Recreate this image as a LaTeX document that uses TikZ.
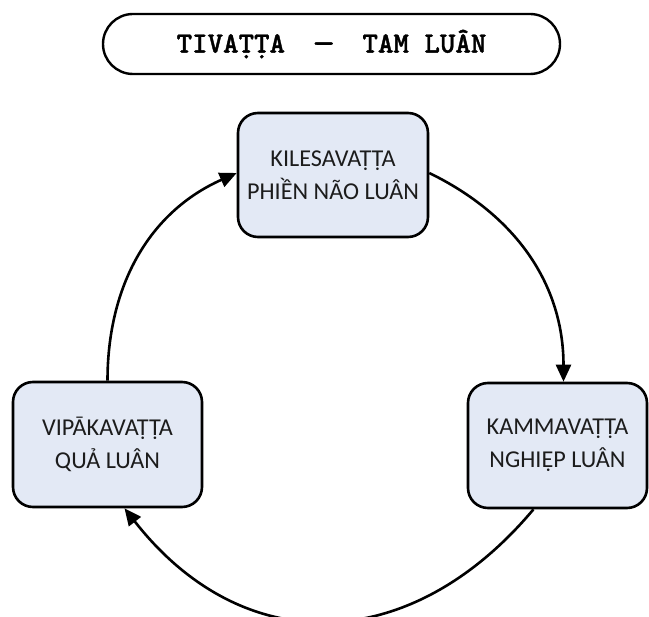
\documentclass[tikz,border=0pt]{standalone}
\usepackage{fontspec}
\setmainfont{Carlito}
\newfontfamily\titlefont{lmmonolt10-bold.otf}[FakeBold=1.2]
\usetikzlibrary{arrows.meta}
\definecolor{boxfill}{RGB}{227,233,245}
\definecolor{inkdark}{RGB}{28,28,28}
\begin{document}
\begin{tikzpicture}[x=1pt,y=1pt,
  cyclebox/.style={draw=black, line width=2.6pt, fill=boxfill, rounded corners=20pt,
    align=center, inner sep=0pt, text=inkdark,
    font=\fontsize{24.2}{33}\selectfont},
  titlebox/.style={draw=black, line width=2.4pt, rounded corners=30pt,
    minimum width=457pt, minimum height=60pt, inner sep=0pt,
    font=\titlefont\fontsize{29.5}{32}\selectfont},
  flow/.style={line width=2.6pt, -{Triangle[length=17pt,width=15pt]}}]
\useasboundingbox (0,0) rectangle (649,-617);

% title banner (the dash is widened to a full-width rule)
\node[titlebox] (title) at (331.5,-44)
  {TIVAṬṬA~~\makebox[15.5pt]{\scalebox{1.45}[1]{—}}~~TAM LUÂN};

% the three rounds
\node[cyclebox, minimum width=190pt, minimum height=124pt] (kilesa) at (333,-175)
  {KILESAVAṬṬA\\PHIỀN NÃO LUÂN};
\node[cyclebox, minimum width=179pt, minimum height=125pt] (kamma) at (557.5,-445.5)
  {KAMMAVAṬṬA\\NGHIỆP LUÂN};
\node[cyclebox, minimum width=189pt, minimum height=125pt] (vipaka) at (107.5,-444.5)
  {VIPĀKAVAṬṬA\\QUẢ LUÂN};

% cycle connectors
\draw[flow] ([yshift=2pt]kilesa.east) to[out=-26,in=90] ([xshift=6pt]kamma.north);
\draw[flow] ([xshift=-24pt]kamma.south) to[out=-130,in=-52,looseness=1.2] ([xshift=17pt]vipaka.south);
\draw[flow] (vipaka.north) to[out=90,in=-156] ([yshift=2pt]kilesa.west);
\end{tikzpicture}
\end{document}
